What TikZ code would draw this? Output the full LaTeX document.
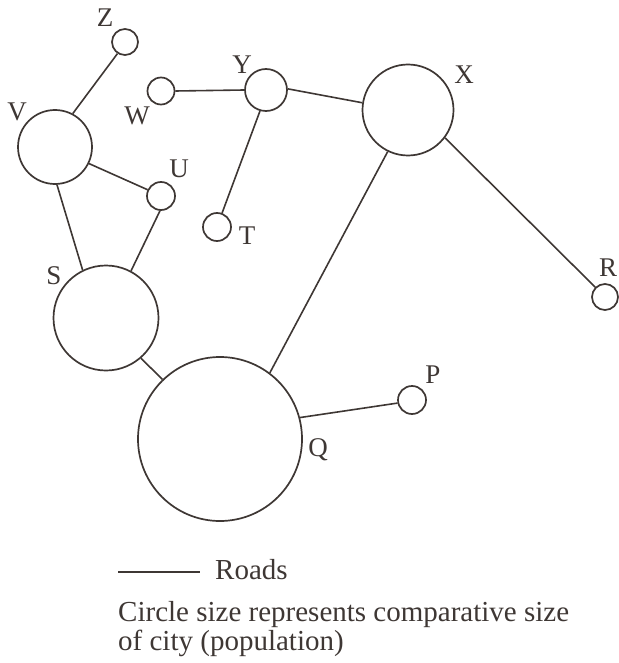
\documentclass[tikz,border=0pt]{standalone}
\usepackage{fontspec}
\setmainfont{Liberation Serif}
\definecolor{ink}{RGB}{62,55,52}
\begin{document}
\begin{tikzpicture}[x=1pt,y=-1pt,
  city/.style={circle,draw=ink,line width=1.7pt,inner sep=0pt,minimum size=#1},
  road/.style={draw=ink,line width=1.6pt},
  lab/.style={text=ink,font=\fontsize{27}{30}\selectfont,inner sep=0pt},
  captext/.style={text=ink,font=\fontsize{29}{32}\selectfont,inner sep=0pt,anchor=base west}]
\useasboundingbox (0,0) rectangle (618,663);
% cities
\node[city=26] (Z) at (125,42) {};
\node[city=74] (V) at (55,147) {};
\node[city=27] (W) at (161,91) {};
\node[city=42] (Y) at (266,90) {};
\node[city=28] (U) at (161,196) {};
\node[city=28] (T) at (217,227) {};
\node[city=91] (X) at (408,110) {};
\node[city=26] (R) at (605,297) {};
\node[city=105] (S) at (106,318) {};
\node[city=164] (Q) at (220,439) {};
\node[city=28] (P) at (412,400) {};
% labels
\node[lab] (Zl) at (105,18) {Z};
\node[lab] (Vl) at (17,112) {V};
\node[lab] (Wl) at (137,116) {W};
\node[lab] (Yl) at (242,65) {Y};
\node[lab] (Ul) at (179,169) {U};
\node[lab] (Tl) at (247,236) {T};
\node[lab] (Xl) at (464,75) {X};
\node[lab] (Rl) at (608,268) {R};
\node[lab] (Sl) at (54,276) {S};
\node[lab] (Ql) at (318,450) {Q};
\node[lab] (Pl) at (433,375) {P};
% roads
\draw[road] (Z.237) -- (V.62);
\draw[road] (V.-26) -- (U.155);
\draw[road] (V.-87) -- (S.116);
\draw[road] (U.-94) -- (S.62);
\draw[road] (W.0) -- (Y.180);
\draw[road] (Y.-106) -- (T.70);
\draw[road] (Y.3) -- (X.171);
\draw[road] (X.-37) -- (R.135);
\draw[road] (X.-116) -- (Q.53);
\draw[road] (S.-49) -- (Q.134);
\draw[road] (Q.15) -- (P.192);
% legend
\coordinate (la) at (118,572);
\coordinate (lb) at (200,572);
\draw[road,line width=1.3pt] (la) -- (lb);
\node[captext] (roads) at (215,579) {Roads};
\node[captext] (cap1) at (118,621) {Circle size represents comparative size};
\node[captext] (cap2) at (118,650) {of city (population)};
\end{tikzpicture}
\end{document}
